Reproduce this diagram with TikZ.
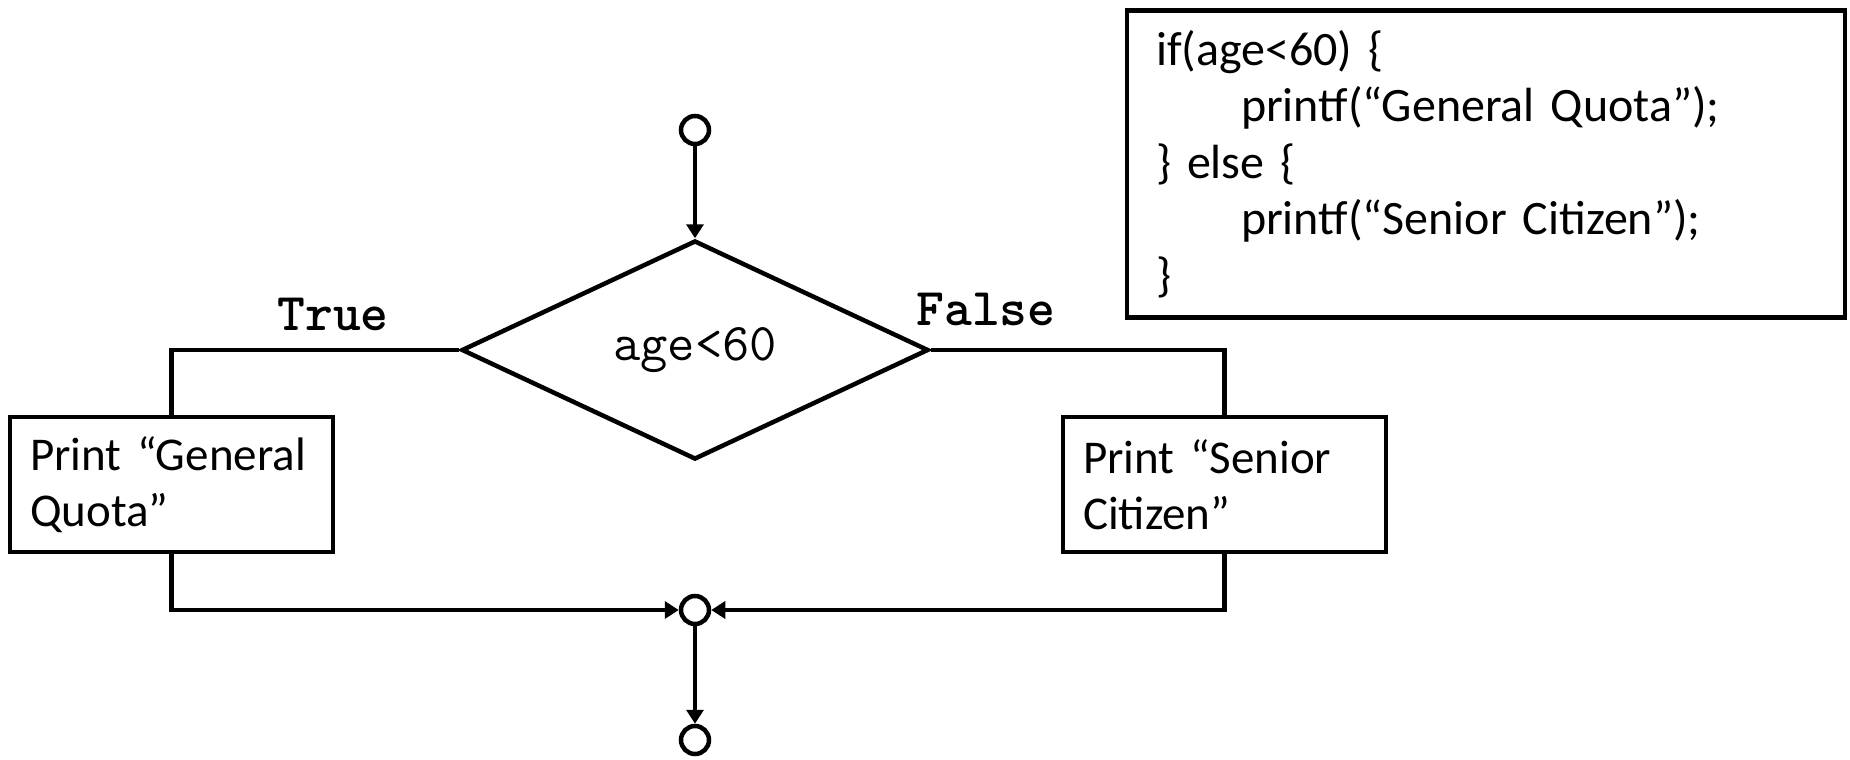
\documentclass[tikz,border=0pt]{standalone}
\usepackage{fontspec}
\setmainfont{Carlito}
\newfontfamily\codefont{Latin Modern Mono}
\newfontfamily\codebold{Latin Modern Mono Light}
\usetikzlibrary{arrows.meta,shapes.geometric}

\begin{document}
\begin{tikzpicture}[x=1pt, y=-1pt, line width=4.5pt,
    >={Triangle[length=14pt,width=17pt]},
    term/.style={circle, draw, minimum size=28pt, inner sep=0pt},
    printbox/.style={draw, minimum width=323pt, minimum height=135pt, inner xsep=20pt,
        text width=283pt, align=left, font=\fontsize{47}{56.5}\selectfont},
    branch/.style={font=\codebold\bfseries\fontsize{53}{60}\selectfont, anchor=base}]
    \useasboundingbox (0,0) rectangle (1850,760);
    \node[term] (start) at (695,130) {};
    \node[diamond, draw, aspect=2.13, minimum width=467pt, minimum height=219pt, inner sep=0pt,
        font=\codefont\fontsize{53}{60}\selectfont] (cond) at (695,350) {age<60};
    \node[printbox] (lbox) at (171.5,484.5) {Print “General\\Quota”};
    \node[printbox] (rbox) at (1224.5,484.5) {Print “Senior\\Citizen”};
    \node[term] (merge) at (695,610) {};
    \node[term] (stop) at (695,740) {};
    \node[branch] (ltrue) at (333,330) {True};
    \node[branch] (lfalse) at (986,325) {False};
    \node[draw, minimum width=718pt, minimum height=307pt, inner xsep=29pt, text width=660pt,
        align=left, font=\fontsize{48}{56.6}\selectfont] (code) at (1486,164)
        {if(age<60) \{\\\hspace*{85pt}printf(“General Quota”);\\\} else \{\\\hspace*{85pt}printf(“Senior Citizen”);\\\}};
    \draw[->] (start) -- (cond.north);
    \draw (cond.west) -| (lbox.north);
    \draw (cond.east) -| (rbox.north);
    \draw[->] (lbox.south) |- (merge);
    \draw[->] (rbox.south) |- (merge);
    \draw[->] (merge) -- (stop);
\end{tikzpicture}
\end{document}
